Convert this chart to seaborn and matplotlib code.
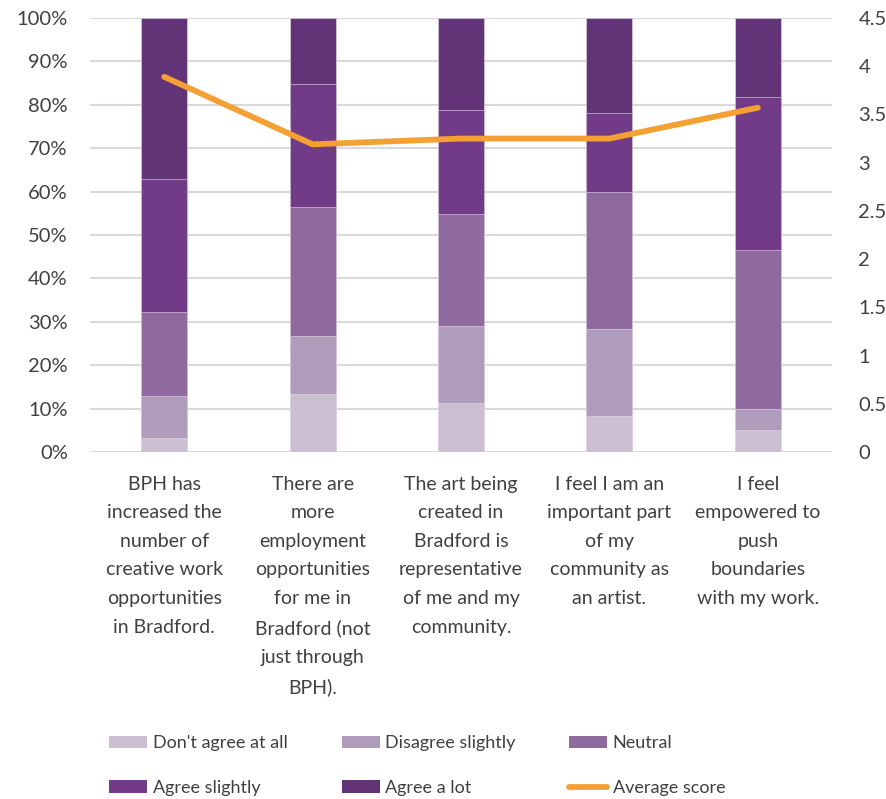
import numpy as np
import pandas as pd
import matplotlib
matplotlib.use("Agg")
import matplotlib.pyplot as plt
import seaborn as sns
from matplotlib.patches import Patch
from matplotlib.lines import Line2D

# Survey statements (x-axis categories)
statements = [
    "BPH has\nincreased the\nnumber of\ncreative work\nopportunities\nin Bradford.",
    "There are\nmore\nemployment\nopportunities\nfor me in\nBradford (not\njust through\nBPH).",
    "The art being\ncreated in\nBradford is\nrepresentative\nof me and my\ncommunity.",
    "I feel I am an\nimportant part\nof my\ncommunity as\nan artist.",
    "I feel\nempowered to\npush\nboundaries\nwith my work.",
]

# Share of responses per answer (%)
dont_agree = [3.2, 13.4, 11.2, 8.3, 5.1]
disagree_slightly = [9.7, 13.3, 17.8, 20.0, 4.9]
neutral = [19.4, 29.8, 25.8, 31.6, 36.6]
agree_slightly = [30.5, 28.4, 24.1, 18.3, 35.1]
agree_lot = [37.2, 15.1, 21.1, 21.8, 18.3]

# Average score (1 = don't agree at all ... 5 = agree a lot)
average_score = [3.89, 3.19, 3.25, 3.25, 3.57]

series_names = ["Don't agree at all", "Disagree slightly", "Neutral",
                "Agree slightly", "Agree a lot"]
series_values = [dont_agree, disagree_slightly, neutral, agree_slightly, agree_lot]
series_colors = ["#CBBFD2", "#AF9CBA", "#8F6A9E", "#723B87", "#633378"]
line_color = "#F4A033"

sns.set_theme(style="white")
plt.rcParams["font.family"] = ["Lato", "DejaVu Sans"]
text_color = "#404040"

fig = plt.figure(figsize=(8.87, 7.99), dpi=100)
ax = fig.add_axes([90 / 887, 1 - 452 / 799, (832 - 90) / 887, (452 - 18) / 799])

# Stacked bars: draw cumulative totals from the top segment downwards
cum = np.cumsum(np.array(series_values), axis=0) / 100.0
x_idx = np.arange(len(statements))
for i in range(len(series_names) - 1, -1, -1):
    df = pd.DataFrame({"x": x_idx, "y": cum[i]})
    sns.barplot(data=df, x="x", y="y", color=series_colors[i], width=0.31,
                saturation=1, ax=ax, edgecolor="#E6DDEA", linewidth=0.4)

ax.set_xlim(-0.5, len(statements) - 0.5)
ax.set_ylim(0, 1)
ax.set_yticks(np.linspace(0, 1, 11))
ax.set_yticklabels([f"{int(round(v * 100))}%" for v in np.linspace(0, 1, 11)],
                   fontsize=14.5, color=text_color)
ax.set_xticks(x_idx)
ax.set_xticklabels(statements, fontsize=14, color=text_color, linespacing=1.83,
                   va="top")
ax.tick_params(axis="x", length=0, pad=17)
ax.tick_params(axis="y", length=0, pad=16)
ax.set_xlabel("")
ax.set_ylabel("")
ax.yaxis.grid(True, color="#D9D9D9", linewidth=1.5)
ax.set_axisbelow(True)
for s in ax.spines.values():
    s.set_visible(False)

# Average score on the secondary axis
ax2 = ax.twinx()
sns.lineplot(x=x_idx, y=average_score, color=line_color, linewidth=4.2,
             ax=ax2, solid_capstyle="round")
ax2.set_ylim(0, 4.5)
ax2.set_yticks(np.arange(0, 4.51, 0.5))
ax2.set_yticklabels(["0", "0.5", "1", "1.5", "2", "2.5", "3", "3.5", "4", "4.5"],
                    fontsize=14.5, color=text_color)
ax2.tick_params(axis="y", length=0, pad=19)
ax2.grid(False)
for s in ax2.spines.values():
    s.set_visible(False)
ax2.set_xlim(-0.5, len(statements) - 0.5)

# Legend in two rows of three
handles = [Patch(facecolor=c, edgecolor="none") for c in series_colors]
handles.append(Line2D([0], [0], color=line_color, linewidth=4.2,
                      solid_capstyle="round"))
labels = series_names + ["Average score"]
order = [0, 3, 1, 4, 2, 5]
fig.legend([handles[i] for i in order], [labels[i] for i in order],
           loc="upper left", bbox_to_anchor=(102 / 887, 1 - 728 / 799),
           ncol=3, frameon=False, fontsize=13, labelcolor=text_color,
           handlelength=2.1, handleheight=0.7, handletextpad=0.3,
           columnspacing=3.0, labelspacing=1.6, borderaxespad=0)

fig.savefig("out.png", dpi=100)
